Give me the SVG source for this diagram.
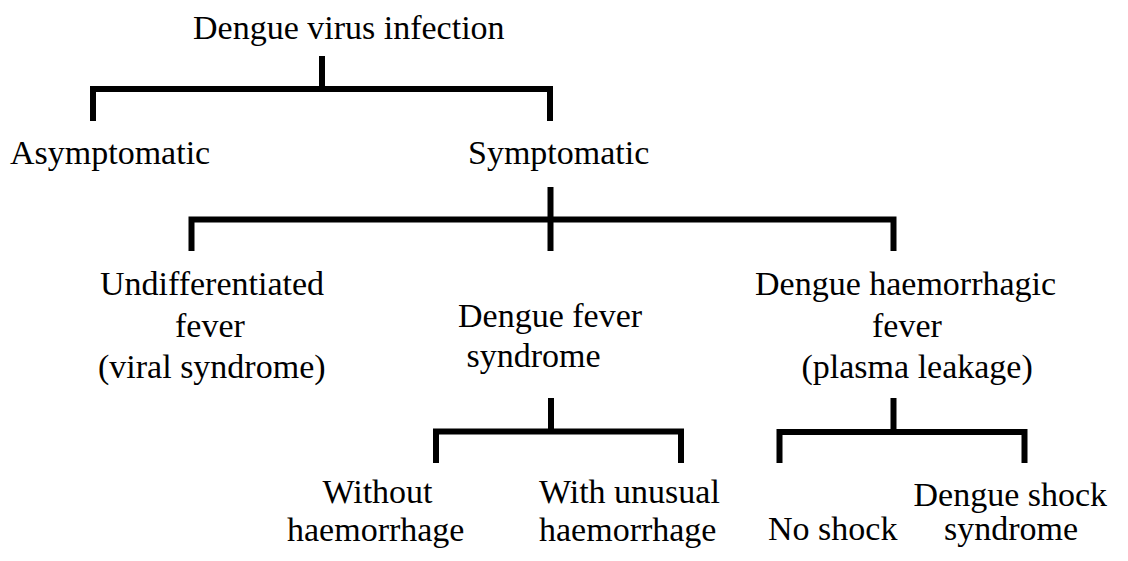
<svg xmlns="http://www.w3.org/2000/svg" width="1128" height="561" viewBox="0 0 1128 561">
<style>
text{font-family:"Liberation Serif","Times New Roman",serif;font-size:34px;fill:#000}
.c{fill:none;stroke:#000;stroke-width:6;stroke-linejoin:miter;stroke-linecap:butt}
</style>
<rect width="1128" height="561" fill="#fff"/>
<g id="connectors">
<path class="c" d="M322 56V89"/>
<path class="c" d="M93 121V89H550V121"/>
<path class="c" d="M550.5 187V251"/>
<path class="c" d="M191.5 251V219.5H893.5V251"/>
<path class="c" d="M551 398V432"/>
<path class="c" d="M436 463V431.5H681V463"/>
<path class="c" d="M893.5 398V432"/>
<path class="c" d="M779.5 463V432H1024.5V463"/>
</g>
<g id="n-root"><text x="193" y="39">Dengue virus infection</text></g>
<g id="n-asym"><text x="10" y="164">Asymptomatic</text></g>
<g id="n-sym"><text x="468" y="164">Symptomatic</text></g>
<g id="n-undiff"><text x="100" y="295">Undifferentiated</text><text x="175" y="337">fever</text><text x="98" y="378">(viral syndrome)</text></g>
<g id="n-df"><text x="458" y="327">Dengue fever</text><text x="466.5" y="367">syndrome</text></g>
<g id="n-dhf"><text x="755" y="295">Dengue haemorrhagic</text><text x="872" y="337">fever</text><text x="801.5" y="378">(plasma leakage)</text></g>
<g id="n-without"><text x="322.5" y="503">Without</text><text x="287" y="540.5">haemorrhage</text></g>
<g id="n-with"><text x="539" y="503">With unusual</text><text x="539" y="540.5">haemorrhage</text></g>
<g id="n-noshock"><text x="768" y="539.5">No shock</text></g>
<g id="n-dss"><text x="913.5" y="506">Dengue shock</text><text x="944" y="540">syndrome</text></g>
</svg>
